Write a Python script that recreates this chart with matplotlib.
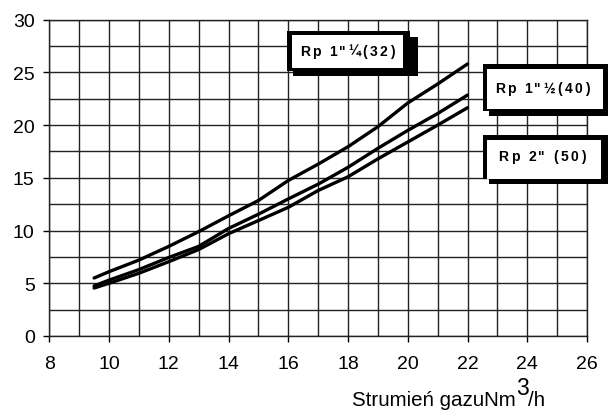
import matplotlib.pyplot as plt
from matplotlib.patches import Rectangle
from matplotlib.ticker import MultipleLocator

plt.rcParams['font.family'] = ['Liberation Sans', 'DejaVu Sans']

# odczyt z wykresu
flow = [9.5, 10, 11, 12, 13, 14, 15, 16, 17, 18, 19, 20, 21, 22]
rp32 = [5.5, 6.1, 7.2, 8.5, 9.9, 11.4, 12.85, 14.75, 16.3, 17.95, 19.85, 22.1, 23.9, 25.8]
rp40 = [4.75, 5.3, 6.3, 7.45, 8.5, 10.2, 11.55, 13.0, 14.4, 16.0, 17.8, 19.5, 21.1, 22.85]
rp50 = [4.55, 5.0, 5.95, 7.05, 8.2, 9.7, 10.95, 12.2, 13.8, 15.1, 16.8, 18.4, 20.0, 21.65]
labels = ['Rp 1"¼(32)', 'Rp 1"½(40)', 'Rp 2" (50)']
x_ticks = [8, 10, 12, 14, 16, 18, 20, 22, 24, 26]
y_ticks = [0, 5, 10, 15, 20, 25, 30]

W, H = 608, 414
fig = plt.figure(figsize=(W / 100, H / 100), dpi=100)
ax = fig.add_axes([49.3 / W, 1 - 337 / H, (587 - 49.3) / W, (337 - 20.7) / H])

for s in (rp32, rp40, rp50):
    ax.plot(flow, s, color='black', lw=2.4, solid_capstyle='round', zorder=3)

ax.set_xlim(8, 26)
ax.set_ylim(0, 30)
ax.set_xticks(x_ticks)
ax.set_yticks(y_ticks)
ax.xaxis.set_minor_locator(MultipleLocator(1))
ax.yaxis.set_minor_locator(MultipleLocator(2.5))
ax.grid(True, which='both', color='#222222', lw=1.0)
ax.tick_params(which='major', direction='out', length=4.5, width=1, labelsize=14)
ax.tick_params(axis='x', pad=9)
ax.tick_params(axis='y', pad=6)
ax.tick_params(which='minor', length=0)
for sp in ax.spines.values():
    sp.set_color('#222222')
    sp.set_linewidth(1.0)

rend = fig.canvas.get_renderer()

# podpis osi x: duza trojka w indeksie
t1 = fig.text(352 / W, 1 - 406.5 / H, 'Strumień gazuNm', fontsize=14.8, ha='left', va='baseline')
x_end = t1.get_window_extent(rend).x1
t2 = fig.text(x_end / W, 1 - 395 / H, '3', fontsize=16.5, ha='left', va='baseline')
x_end = t2.get_window_extent(rend).x1
fig.text(x_end / W, 1 - 406.5 / H, '/h', fontsize=14.8, ha='left', va='baseline')


def spaced_text(cx, cy, s, track, size):
    # tekst z rozstrzelonymi literami, wysrodkowany na (cx, cy) w pikselach
    parts = []
    x = 0.0
    for ch in s:
        t = fig.text(0, 1 - cy / H, ch, fontsize=size, fontweight='bold', ha='left', va='center', zorder=8)
        w = t.get_window_extent(rend).width
        if ch == ' ':
            w = size * 100 / 72 * 0.28
        parts.append((t, x))
        x += w + track
    total = x - track
    for t, dx in parts:
        t.set_x((cx - total / 2 + dx) / W)


def px_box(x0, y0, x1, y1, ix0, iy0, ix1, iy1, text, cx, cy):
    # ramka z cieniem: czarne tlo, biale wnetrze
    fig.patches.append(Rectangle((x0 / W, 1 - (y1 - 5) / H), (x1 - 8 - x0) / W, (y1 - 5 - y0) / H,
                                 transform=fig.transFigure, facecolor='black', edgecolor='none', zorder=5))
    fig.patches.append(Rectangle(((x0 + 6) / W, 1 - y1 / H), (x1 - x0 - 6) / W, (y1 - y0 - 6) / H,
                                 transform=fig.transFigure, facecolor='black', edgecolor='none', zorder=5))
    fig.patches.append(Rectangle((ix0 / W, 1 - iy1 / H), (ix1 - ix0) / W, (iy1 - iy0) / H,
                                 transform=fig.transFigure, facecolor='white', edgecolor='none', zorder=6))
    spaced_text(cx, cy, text, 2.4, 10)


px_box(287, 32, 418, 77, 292, 36, 403, 69, labels[0], 347, 52)
px_box(483, 65, 616, 117, 487, 70, 603, 110, labels[1], 542, 89)
px_box(483, 136, 616, 185, 487, 141, 601, 180, labels[2], 542, 157)

fig.savefig('out.png', dpi=100)
